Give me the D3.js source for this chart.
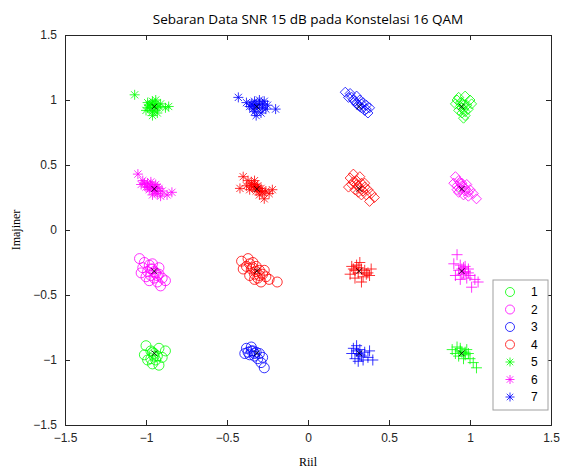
<!DOCTYPE html>
<meta charset="utf-8">
<style>
body { margin: 0; background: #fff; }
.axis text { font-family: "Liberation Sans", Arial, sans-serif; font-size: 12px; fill: #262626; }
.axis path, .axis line { stroke: #262626; }
.title { font-family: "Open Sans", sans-serif; font-size: 13.5px; fill: #000; }
.label { font-family: "Liberation Serif", serif; font-size: 12px; fill: #000; }
.leg text { font-family: "Liberation Sans", Arial, sans-serif; font-size: 12px; fill: #000; }
</style>
<svg width="573" height="472"></svg>
<script src="https://d3js.org/d3.v7.min.js"></script>
<script>

  // ideal 16-QAM points (normalised)
  var levels = [-0.9487, -0.3162, 0.3162, 0.9487];
  var ticks = [-1.5, -1, -0.5, 0, 0.5, 1, 1.5];
  var legendLabels = ["1", "2", "3", "4", "5", "6", "7"];
  var legendColors = ["#00ff00", "#ff00ff", "#0000ff", "#ff0000", "#00ff00", "#ff00ff", "#0000ff"];
  var legendShapes = ["circle", "circle", "circle", "circle", "asterisk", "asterisk", "asterisk"];

  // received symbols per constellation point
  var gAst1 = [[-1.07,1.04],[-0.99,0.98],[-0.96,0.99],[-0.94,0.97],[-0.97,0.94],[-0.92,0.95],[-0.95,0.92],[-0.98,0.96],[-0.93,0.90],[-0.96,0.88],[-0.88,0.94],[-0.86,0.95],[-0.91,0.97],[-1.0,0.92],[-0.94,1.0],[-0.95,0.96],[-0.97,0.97],[-0.93,0.94],[-0.96,0.91],[-0.99,0.94]];
  var bAst1 = [[-0.43,1.02],[-0.38,0.98],[-0.35,0.97],[-0.33,0.99],[-0.30,1.0],[-0.28,0.97],[-0.31,0.94],[-0.34,0.93],[-0.27,0.99],[-0.25,0.96],[-0.20,0.93],[-0.32,0.88],[-0.29,0.90],[-0.36,0.95],[-0.26,0.93],[-0.32,0.96],[-0.30,0.97],[-0.34,0.96],[-0.28,0.94],[-0.33,0.91]];
  var bDia1 = [[0.23,1.06],[0.26,1.05],[0.27,1.02],[0.30,1.03],[0.29,0.99],[0.32,1.0],[0.31,0.96],[0.34,0.98],[0.33,0.94],[0.36,0.96],[0.35,0.92],[0.38,0.94],[0.37,0.90],[0.30,0.97],[0.28,1.0],[0.25,1.02],[0.33,0.97],[0.36,0.93],[0.32,0.95]];
  var gDia1 = [[0.93,1.02],[0.97,1.03],[1.0,1.0],[0.95,0.98],[0.91,0.97],[0.98,0.96],[0.94,0.95],[0.96,0.93],[0.99,0.93],[0.95,0.90],[0.97,0.88],[0.93,0.92],[1.01,0.97],[0.96,0.86],[0.92,1.0],[0.96,0.96],[0.94,0.98],[0.97,0.91],[0.95,0.94]];
  var mAst2 = [[-1.05,0.43],[-1.02,0.38],[-0.99,0.36],[-0.97,0.37],[-1.0,0.33],[-0.96,0.33],[-0.94,0.35],[-0.92,0.32],[-0.95,0.30],[-0.98,0.31],[-0.93,0.28],[-0.90,0.30],[-0.91,0.26],[-0.87,0.27],[-0.84,0.29],[-1.03,0.35],[-0.96,0.27],[-0.97,0.34],[-0.95,0.32],[-0.93,0.33],[-0.99,0.33],[-0.94,0.30],[-1.01,0.36]];
  var rAst2 = [[-0.40,0.41],[-0.37,0.38],[-0.35,0.36],[-0.33,0.38],[-0.38,0.34],[-0.34,0.33],[-0.31,0.34],[-0.29,0.32],[-0.32,0.30],[-0.28,0.29],[-0.26,0.30],[-0.30,0.27],[-0.24,0.28],[-0.27,0.24],[-0.42,0.32],[-0.36,0.31],[-0.22,0.31],[-0.33,0.35],[-0.31,0.32],[-0.35,0.34],[-0.29,0.30],[-0.32,0.33]];
  var rDia2 = [[0.26,0.40],[0.28,0.43],[0.30,0.38],[0.32,0.41],[0.27,0.35],[0.31,0.34],[0.33,0.36],[0.35,0.33],[0.29,0.31],[0.34,0.30],[0.37,0.31],[0.36,0.27],[0.39,0.28],[0.41,0.25],[0.38,0.22],[0.33,0.27],[0.25,0.33],[0.30,0.35],[0.32,0.32],[0.28,0.37],[0.35,0.36],[0.31,0.29]];
  var mDia2 = [[0.91,0.41],[0.93,0.38],[0.95,0.36],[0.92,0.34],[0.96,0.33],[0.98,0.35],[0.94,0.31],[0.97,0.30],[1.0,0.31],[0.96,0.27],[0.99,0.26],[1.02,0.28],[1.04,0.24],[0.90,0.36],[0.93,0.29],[0.95,0.34],[0.97,0.32],[0.94,0.36],[0.99,0.29],[0.92,0.31]];
  var mCir3 = [[-1.04,-0.22],[-1.01,-0.25],[-0.98,-0.27],[-1.02,-0.29],[-0.96,-0.30],[-0.99,-0.32],[-0.94,-0.33],[-0.97,-0.35],[-0.92,-0.34],[-0.95,-0.37],[-0.90,-0.37],[-0.93,-0.40],[-0.88,-0.39],[-0.91,-0.43],[-1.0,-0.36],[-0.96,-0.26],[-0.95,-0.32],[-0.97,-0.30],[-0.93,-0.35],[-1.03,-0.33],[-0.98,-0.39],[-0.92,-0.29]];
  var rCir3 = [[-0.41,-0.24],[-0.37,-0.22],[-0.34,-0.25],[-0.38,-0.28],[-0.35,-0.30],[-0.32,-0.28],[-0.30,-0.31],[-0.33,-0.34],[-0.28,-0.34],[-0.31,-0.37],[-0.26,-0.36],[-0.29,-0.40],[-0.24,-0.38],[-0.19,-0.40],[-0.36,-0.35],[-0.40,-0.30],[-0.32,-0.32],[-0.34,-0.29],[-0.30,-0.35],[-0.36,-0.26],[-0.27,-0.31],[-0.33,-0.38]];
  var rPls3 = [[0.27,-0.28],[0.30,-0.27],[0.32,-0.25],[0.29,-0.31],[0.33,-0.30],[0.31,-0.33],[0.35,-0.31],[0.37,-0.33],[0.34,-0.36],[0.38,-0.35],[0.29,-0.37],[0.26,-0.34],[0.39,-0.30],[0.33,-0.40],[0.28,-0.30],[0.31,-0.29],[0.36,-0.34]];
  var mPls3 = [[0.92,-0.19],[0.90,-0.26],[0.94,-0.27],[0.96,-0.29],[0.93,-0.31],[0.97,-0.32],[0.99,-0.30],[0.95,-0.34],[1.0,-0.35],[0.98,-0.37],[0.94,-0.38],[1.03,-0.38],[1.05,-0.40],[1.01,-0.44],[0.91,-0.35],[0.95,-0.30],[0.97,-0.28],[0.96,-0.33],[0.99,-0.33]];
  var gCir4 = [[-1.0,-0.89],[-0.92,-0.91],[-0.97,-0.93],[-0.95,-0.95],[-1.01,-0.96],[-0.93,-0.97],[-0.97,-0.99],[-0.94,-1.0],[-0.90,-0.98],[-0.96,-1.03],[-0.99,-1.0],[-0.92,-1.04],[-0.88,-0.93],[-0.95,-0.97],[-0.96,-0.94]];
  var bCir4 = [[-0.38,-0.91],[-0.35,-0.90],[-0.37,-0.94],[-0.34,-0.93],[-0.32,-0.94],[-0.36,-0.96],[-0.33,-0.97],[-0.30,-0.95],[-0.31,-0.99],[-0.28,-0.98],[-0.29,-1.02],[-0.27,-1.06],[-0.39,-0.95],[-0.35,-0.93],[-0.33,-0.95]];
  var bPls4 = [[0.28,-0.91],[0.30,-0.89],[0.32,-0.92],[0.27,-0.95],[0.31,-0.95],[0.33,-0.97],[0.35,-0.94],[0.29,-0.99],[0.34,-1.0],[0.37,-0.98],[0.40,-1.0],[0.38,-0.93],[0.31,-1.01],[0.30,-0.93],[0.32,-0.96]];
  var gPls4 = [[0.89,-0.92],[0.92,-0.90],[0.94,-0.91],[0.91,-0.95],[0.95,-0.94],[0.97,-0.96],[0.99,-0.95],[0.96,-0.99],[1.0,-0.99],[1.02,-1.02],[1.04,-1.06],[0.93,-0.97],[0.98,-0.92],[0.94,-0.93],[0.97,-0.94]];

  var groups = [
    { pts: gAst1, color: "#00ff00", shape: "asterisk" },
    { pts: bAst1, color: "#0000ff", shape: "asterisk" },
    { pts: bDia1, color: "#0000ff", shape: "diamond" },
    { pts: gDia1, color: "#00ff00", shape: "diamond" },
    { pts: mAst2, color: "#ff00ff", shape: "asterisk" },
    { pts: rAst2, color: "#ff0000", shape: "asterisk" },
    { pts: rDia2, color: "#ff0000", shape: "diamond" },
    { pts: mDia2, color: "#ff00ff", shape: "diamond" },
    { pts: mCir3, color: "#ff00ff", shape: "circle" },
    { pts: rCir3, color: "#ff0000", shape: "circle" },
    { pts: rPls3, color: "#ff0000", shape: "plus" },
    { pts: mPls3, color: "#ff00ff", shape: "plus" },
    { pts: gCir4, color: "#00ff00", shape: "circle" },
    { pts: bCir4, color: "#0000ff", shape: "circle" },
    { pts: bPls4, color: "#0000ff", shape: "plus" },
    { pts: gPls4, color: "#00ff00", shape: "plus" }
  ];

  var svg = d3.select("svg"),
      margin = {top: 35, right: 22, bottom: 47, left: 65},
      width = svg.attr("width") - margin.left - margin.right,
      height = svg.attr("height") - margin.top - margin.bottom;

  var x = d3.scaleLinear().domain([-1.5, 1.5]).range([0, width]);
  var y = d3.scaleLinear().domain([-1.5, 1.5]).range([height, 0]);

  // marker path, centred on 0,0
  function marker(shape, r) {
    if (shape === "circle") return d3.symbol(d3.symbolCircle, Math.PI * r * r)();
    if (shape === "diamond") return "M0," + (-r) + "L" + r + ",0L0," + r + "L" + (-r) + ",0Z";
    if (shape === "plus") return "M" + (-r) + ",0H" + r + "M0," + (-r) + "V" + r;
    var d = r * 0.72;
    var p = "M" + (-d) + "," + (-d) + "L" + d + "," + d + "M" + (-d) + "," + d + "L" + d + "," + (-d);
    if (shape === "x") return p;
    return p + "M" + (-r) + ",0H" + r + "M0," + (-r) + "V" + r; // asterisk
  }

  var g = svg.append("g")
    .attr("transform", "translate(" + margin.left + "," + margin.top + ")");

  g.append("rect").attr("width", width).attr("height", height).attr("fill", "#fff");

  // axes with inward ticks, mirrored on top/right
  g.append("g").attr("class", "axis")
    .attr("transform", "translate(0," + height + ")")
    .call(d3.axisBottom(x).tickValues(ticks).tickSize(-5).tickPadding(8).tickFormat(d3.format("")));
  g.append("g").attr("class", "axis")
    .call(d3.axisLeft(y).tickValues(ticks).tickSize(-5).tickPadding(8).tickFormat(d3.format("")));
  g.append("g").attr("class", "axis")
    .call(d3.axisTop(x).tickValues(ticks).tickSize(-5).tickFormat(""));
  g.append("g").attr("class", "axis")
    .attr("transform", "translate(" + width + ",0)")
    .call(d3.axisRight(y).tickValues(ticks).tickSize(-5).tickFormat(""));
  g.selectAll(".axis .domain").attr("stroke", "#262626");

  // scatter
  groups.forEach(function(grp) {
    g.append("g").selectAll("path")
      .data(grp.pts)
      .enter().append("path")
      .attr("d", marker(grp.shape, grp.shape === "plus" ? 5.5 : 5))
      .attr("transform", function(d) { return "translate(" + x(d[0]) + "," + y(d[1]) + ")"; })
      .attr("fill", "none")
      .attr("stroke", grp.color)
      .attr("stroke-width", 0.8);
  });

  // centroid markers
  var cents = [];
  levels.forEach(function(a) { levels.forEach(function(b) { cents.push([a, b]); }); });
  g.selectAll(".cent")
    .data(cents)
    .enter().append("path")
    .attr("class", "cent")
    .attr("d", marker("x", 4))
    .attr("transform", function(d) { return "translate(" + x(d[0]) + "," + y(d[1]) + ")"; })
    .attr("fill", "none")
    .attr("stroke", "#000")
    .attr("stroke-width", 0.8);

  // legend
  var leg = g.append("g").attr("class", "leg")
    .attr("transform", "translate(" + (width - 58) + "," + (height - 145) + ")");
  leg.append("rect").attr("width", 55).attr("height", 130)
    .attr("fill", "#fff").attr("stroke", "#a0a0a0").attr("stroke-width", 1);
  var li = leg.selectAll(".li")
    .data(legendLabels)
    .enter().append("g")
    .attr("transform", function(d, i) { return "translate(0," + (12 + i * 17.5) + ")"; });
  li.append("path")
    .attr("d", function(d, i) { return marker(legendShapes[i], 4.5); })
    .attr("transform", "translate(17,0)")
    .attr("fill", "none")
    .attr("stroke", function(d, i) { return legendColors[i]; })
    .attr("stroke-width", 0.8);
  li.append("text").attr("x", 38).attr("dy", "0.35em").text(function(d) { return d; });

  // title and labels
  svg.append("text").attr("class", "title")
    .attr("x", margin.left + width / 2).attr("y", 24)
    .attr("text-anchor", "middle")
    .text("Sebaran Data SNR 15 dB pada Konstelasi 16 QAM");
  svg.append("text").attr("class", "label")
    .attr("x", margin.left + width / 2).attr("y", 466)
    .attr("text-anchor", "middle").text("Riil");
  svg.append("text").attr("class", "label")
    .attr("transform", "translate(20," + (margin.top + height / 2) + ") rotate(-90)")
    .attr("text-anchor", "middle").text("Imajiner");
</script>
